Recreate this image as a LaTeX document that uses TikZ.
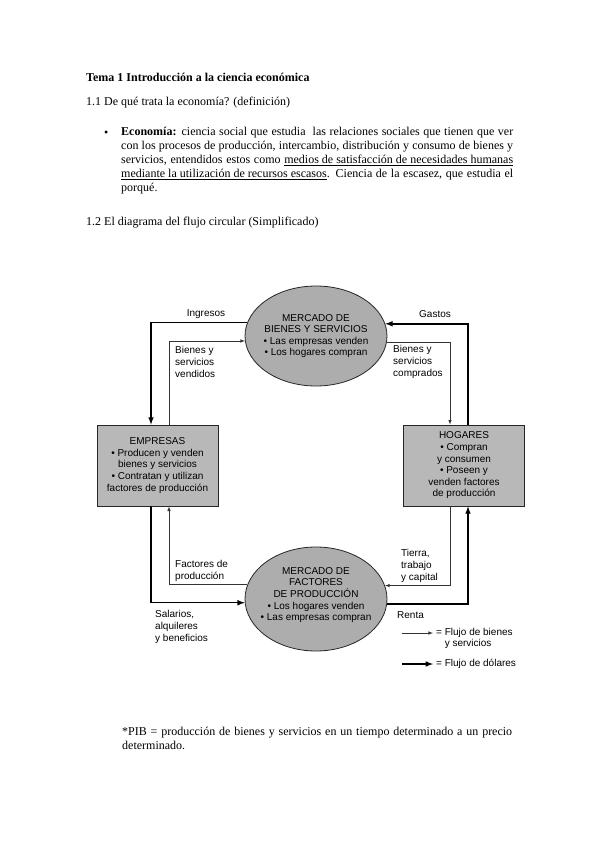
\documentclass[tikz,border=0pt]{standalone}
\usepackage{fontspec}
\setmainfont{Liberation Serif}
\newfontfamily\diagfont{Liberation Sans}
\usetikzlibrary{positioning,shapes.geometric}

\begin{document}
\begin{tikzpicture}[
        x=1pt, y=-1pt,
        node distance=0pt,
        % Texto del documento
        texto/.style={
            anchor=west, inner sep=0pt,
            font=\fontsize{12}{14}\selectfont
        },
        % Mercados
        mercado/.style={
            ellipse, draw=black!85, fill=black!32, line width=0.8pt,
            minimum width=142pt, minimum height=100pt, inner sep=0pt
        },
        % Texto de los mercados
        mtexto/.style={
            align=center, inner sep=0pt,
            font=\diagfont\fontsize{10}{11.6}\selectfont
        },
        % Empresas / Hogares
        agente/.style={
            rectangle, draw=black!85, fill=black!28, line width=0.8pt,
            minimum width=121pt, minimum height=81pt, inner sep=0pt,
            align=center, font=\diagfont\fontsize{10}{11.6}\selectfont
        },
        % Etiquetas de los flujos
        etiqueta/.style={
            anchor=west, align=left, inner sep=0pt,
            font=\diagfont\fontsize{10}{11.6}\selectfont
        },
        % Flechas
        bienes/.style={-latex, draw=black!80, line width=0.6pt},
        dolares/.style={-latex, draw=black, line width=1.5pt}
    ]
        \useasboundingbox (0,0) rectangle (599,848);
        \fill[white] (0,0) rectangle (599,848);

        % Encabezado
        \node [texto, font=\fontsize{12}{14}\selectfont\bfseries] (tema) at (86,77) {Tema 1 Introducción a la ciencia económica};
        \node [texto] (sec11) at (86,103) {1.1 De qué trata la economía? (definición)};
        \node [texto] (vineta) at (104,134) {\textbullet};
        \node [texto, anchor=north west, text width=392pt, align=justify] (def) at (121,127) {\textbf{Economía:} ciencia social que estudia\ \ las relaciones sociales que tienen que ver\linebreak
            con los procesos de producción, intercambio, distribución y consumo de bienes y\linebreak
            servicios, entendidos estos como \underline{medios de satisfacción de necesidades humanas}\linebreak
            \underline{mediante la utilización de recursos escasos}. Ciencia de la escasez, que estudia el\linebreak
            porqué.};
        \node [texto] (sec12) at (86,223) {1.2 El diagrama del flujo circular (Simplificado)};

        % Mercados
        \node [mercado] (mb) at (316,336) {};
        \node [mtexto] (mbt) at (mb) {MERCADO DE\\BIENES Y SERVICIOS\\\textbullet\ Las empresas venden\\\textbullet\ Los hogares compran};
        \node [mercado, minimum height=104pt] (mf) at (316,599) {};
        \node [mtexto] (mft) at ([yshift=4pt]mf.center) {MERCADO DE\\FACTORES\\DE PRODUCCIÓN\\\textbullet\ Los hogares venden\\\textbullet\ Las empresas compran};

        % Empresas y hogares
        \node [agente] (emp) at (157.5,465.5) {EMPRESAS\\\textbullet\ Producen y venden\\bienes y servicios\\\textbullet\ Contratan y utilizan\\factores de producción};
        \node [agente] (hog) at (464,465.5) {HOGARES\\\textbullet\ Compran\\y consumen\\\textbullet\ Poseen y\\venden factores\\de producción};

        % Etiquetas
        \node [etiqueta, anchor=center] (ingresos) at (206,314) {Ingresos};
        \node [etiqueta, anchor=center] (gastos) at (435,314) {Gastos};
        \node [etiqueta] (bvend) at (175,362) {Bienes y\\servicios\\vendidos};
        \node [etiqueta] (bcomp) at (393,362) {Bienes y\\servicios\\comprados};
        \node [etiqueta] (factores) at (175,571) {Factores de\\producción};
        \node [etiqueta] (tierra) at (401,566) {Tierra,\\trabajo\\y capital};
        \node [etiqueta] (salarios) at (155,627) {Salarios,\\alquileres\\y beneficios};
        \node [etiqueta] (renta) at (397,615) {Renta};

        % Flujo de dólares
        \draw [dolares] (mb.169.3) -| ([xshift=-6.5pt]emp.north);
        \draw [dolares] ([xshift=-6.5pt]emp.south) |- (mf.183.2);
        \draw [dolares] (mf.356.8) -| ([xshift=4pt]hog.south);
        \draw [dolares] ([xshift=4pt]hog.north) |- (mb.10.7);

        % Flujo de bienes
        \draw [bienes] ([xshift=11.5pt]emp.north) |- (mb.184.9);
        \draw [bienes] (mb.355.1) -| ([xshift=-14pt]hog.north);
        \draw [bienes] ([xshift=-14pt]hog.south) |- (mf.11.6);
        \draw [bienes] (mf.168.4) -| ([xshift=11.5pt]emp.south);

        % Leyenda
        \node [etiqueta] (ley1) at (436,633) {= Flujo de bienes};
        \node [etiqueta, below right=1.6pt and 8.6pt of ley1.south west, anchor=north west] (ley1b) {y servicios};
        \node [etiqueta] (ley2) at (436,664) {= Flujo de dólares};
        \coordinate (l1a) at (402,633);
        \coordinate (l2a) at (402,664);
        \draw [bienes, shorten >=3pt] (l1a) -- (ley1.west);
        \draw [dolares, shorten >=3pt] (l2a) -- (ley2.west);

        % Nota
        \node [texto, anchor=north west, text width=390pt, align=justify] (nota) at (122,727) {*PIB = producción de bienes y servicios en un tiempo determinado a un precio\linebreak
            determinado.};

    \end{tikzpicture}
\end{document}
